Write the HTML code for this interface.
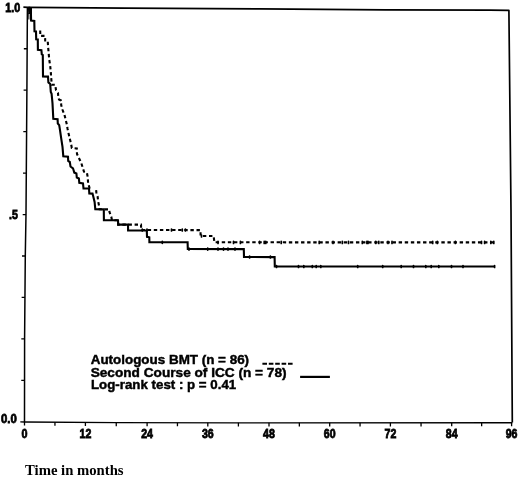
<!DOCTYPE html>
<html><head><meta charset="utf-8"><style>
html,body{margin:0;padding:0;background:#fff;}
svg{display:block;will-change:transform;}
</style></head><body>
<svg width="520" height="477" viewBox="0 0 520 477">
<rect width="520" height="477" fill="#fff"/>
<path d="M23.4 7.2 L28 7.3 L125 8.1 L260 8.9 L385 9.8 L490 10.1 L508.9 10.4 L511 210 L512.3 422.6" fill="none" stroke="#000" stroke-width="1.7" stroke-linejoin="round"/>
<path d="M27.4 7.3 L26.9 90 L26 214 L25.3 255 L24.6 338 L24.5 422" fill="none" stroke="#000" stroke-width="1.5"/>
<path d="M20.3 421.9 L24.5 421.95 L116 422.6 L238 422.85 L512.3 422.75" fill="none" stroke="#000" stroke-width="1.4"/>
<path d="M23.85 48.75H27.15M23.6 90.2H26.9M23.3 131.65H26.6M23 173.1H26.3M22.69 214.55H25.99M21.99 256H25.29M21.64 297.45H24.94M21.3 338.9H24.6M21.25 380.35H24.55M24.5 421.95V425.55M54.95 422.17V425.77M85.4 422.38V425.98M116.25 422.6V426.2M147.1 422.66V426.26M177.45 422.73V426.33M207.8 422.79V426.39M238.4 422.85V426.45M269 422.84V426.44M299.35 422.83V426.43M329.7 422.82V426.42M360.05 422.81V426.41M390.4 422.79V426.39M421.05 422.78V426.38M451.7 422.77V426.37M481.65 422.76V426.36M511.6 422.75V426.35" fill="none" stroke="#000" stroke-width="1.3"/>
<path d="M27.9 7.5 L31.9 7.5 L32 20.6 L30.2 20.6 L30 14 L28.2 14Z" fill="#000"/><path d="M28.7 13 L28.9 19.5" stroke="#000" stroke-width="1.2" fill="none" opacity="0.8"/>
<path d="M28.5 7.5 L30.8 8 L31.1 20.5 L34.3 20.9 L34.5 31.3 L36 31.5 L36.2 39.2 L37.8 39.4 L37.9 49.8 L41.4 50.1 L41.8 54.3 L42.8 55 L43 76.4 L48 76.6 L48.4 82.4 L50.2 84 L50.8 92 L51.6 93.8 L52.2 100 L52.5 103.4 L53.3 118.7 L57.6 119.2 L57.8 123.5 L59.2 125.2 L60 130.2 L61.2 138.4 L62.5 146.8 L63.3 156.2 L68 156.8 L68.2 161 L69.8 162 L70.5 166.5 L73 168.3 L74.3 172.6 L76.4 173.4 L76.8 177.6 L78.9 178.4 L79.3 182.8 L83 183.4 L83.5 188.5 L89 188.5 L89.3 193.4 L92.5 193.6 L93.4 197 L94.6 202 L95.3 209.3 L103.8 209.4 L103.9 220.2 L118 220.2 L118.2 224.6 L128 224.6 L128.1 230.5 L146.8 230.5 L147 236.8 L149.3 237.3 L149.4 242.2 L187.6 242.3 L187.8 249 L243.8 249.1 L244 257 L274.6 257.1 L274.8 266.4 L495 266.5" fill="none" stroke="#000" stroke-width="2.1" stroke-linejoin="miter"/>
<path d="M40.2 30.6 L40.3 35.9 L45 35.9 L45.2 40.5 L47.7 40.6 L48.2 48 L49.3 60 L50.2 66 L50.8 72 L51.2 78 L51.8 84.7 L55.2 84.8 L56 90 L58 93 L58.3 97 L59 99.5 L61 100.5 L61.2 105 L62.6 110 L64.5 115 L65.5 119 L66.8 124.3 L67.6 129 L68.8 134.5 L69.7 138.4 L71 143.4 L71.8 148 L76.8 148.4 L77 154 L79 158.2 L81.2 162.8 L82.7 167.6 L84 171.7 L86.9 172.8 L87.7 177 L88.1 183 L89.4 187.5 L89.6 189.5M96.1 190.2 L96.4 192.7 L97.6 196.5 L98.2 201.5 L99.2 206.5 L99.7 209.3 L109.3 209.4 L109.5 212 L111.3 216.8 L112 220.2 L118 220.2 L118.2 224.6 L141 224.6 L141.2 230 L200.5 230.1 L200.6 236 L213.6 236 L214.4 242.3 L494.7 242.4" fill="none" stroke="#000" stroke-width="2.1" stroke-dasharray="3.4 2.7"/>
<path d="M162.3 241.3v2M189 248.1v2M207.7 248.1v2M218 248.1v2M223.5 248.1v2M228 248.1v2M235 248.1v2M249.6 256v2M270.4 256v2M276.5 265.5v2M298.5 265.5v2M303.8 265.5v2M312.3 265.5v2M316.2 265.5v2M320.8 265.5v2M357.7 265.5v2M382.7 265.5v2M401.2 265.5v2M413.5 265.5v2M425.8 265.5v2M431.2 265.5v2M438.8 265.5v2M451.5 265.5v2M463 265.5v2M494.6 265.5v2M142.3 229v2M147 229v2M171.5 229v2M182.3 229v2M185.4 229v2M201.5 235v2M218 241.4v2M233.5 241.4v2M240.4 241.4v2M259.6 241.4v2M264.2 241.4v2M265.8 241.4v2M281.2 241.4v2M319.2 241.4v2M333 241.4v2M342.3 241.4v2M348.5 241.4v2M362.3 241.4v2M366.9 241.4v2M368 241.4v2M375.8 241.4v2M378.8 241.4v2M388 241.4v2M392 241.4v2M432.7 241.4v2M437.3 241.4v2M455.4 241.4v2M481.5 241.4v2M484.6 241.4v2M490.8 241.4v2M493.8 241.4v2" stroke="#000" stroke-width="1.7" stroke-linecap="round" fill="none"/>
<path d="M262.4 363.7H292.6" fill="none" stroke="#000" stroke-width="2.1" stroke-dasharray="4.6 1.8"/>
<path d="M300.1 376.9H329.9" fill="none" stroke="#000" stroke-width="2.2"/>
<text x="5.2" y="11.9" font-family="Liberation Sans" font-weight="bold" font-size="13.2" textLength="15" lengthAdjust="spacingAndGlyphs" text-anchor="start" stroke="#000" stroke-width="0.8">1.0</text>
<text x="9" y="218.6" font-family="Liberation Sans" font-weight="bold" font-size="13.2" textLength="8.9" lengthAdjust="spacingAndGlyphs" text-anchor="start" stroke="#000" stroke-width="0.8">.5</text>
<text x="1" y="422.6" font-family="Liberation Sans" font-weight="bold" font-size="13.2" textLength="15.8" lengthAdjust="spacingAndGlyphs" text-anchor="start" stroke="#000" stroke-width="0.8">0.0</text>
<text x="21.5" y="438.3" font-family="Liberation Sans" font-weight="bold" font-size="13.0" textLength="6" lengthAdjust="spacingAndGlyphs" text-anchor="start" stroke="#000" stroke-width="0.8">0</text>
<text x="79.5" y="438.3" font-family="Liberation Sans" font-weight="bold" font-size="13.0" textLength="11.8" lengthAdjust="spacingAndGlyphs" text-anchor="start" stroke="#000" stroke-width="0.8">12</text>
<text x="141.2" y="438.3" font-family="Liberation Sans" font-weight="bold" font-size="13.0" textLength="11.8" lengthAdjust="spacingAndGlyphs" text-anchor="start" stroke="#000" stroke-width="0.8">24</text>
<text x="201.9" y="438.3" font-family="Liberation Sans" font-weight="bold" font-size="13.0" textLength="11.8" lengthAdjust="spacingAndGlyphs" text-anchor="start" stroke="#000" stroke-width="0.8">36</text>
<text x="263.1" y="438.3" font-family="Liberation Sans" font-weight="bold" font-size="13.0" textLength="11.8" lengthAdjust="spacingAndGlyphs" text-anchor="start" stroke="#000" stroke-width="0.8">48</text>
<text x="323.8" y="438.3" font-family="Liberation Sans" font-weight="bold" font-size="13.0" textLength="11.8" lengthAdjust="spacingAndGlyphs" text-anchor="start" stroke="#000" stroke-width="0.8">60</text>
<text x="384.5" y="438.3" font-family="Liberation Sans" font-weight="bold" font-size="13.0" textLength="11.8" lengthAdjust="spacingAndGlyphs" text-anchor="start" stroke="#000" stroke-width="0.8">72</text>
<text x="445.8" y="438.3" font-family="Liberation Sans" font-weight="bold" font-size="13.0" textLength="11.8" lengthAdjust="spacingAndGlyphs" text-anchor="start" stroke="#000" stroke-width="0.8">84</text>
<text x="505.7" y="438.3" font-family="Liberation Sans" font-weight="bold" font-size="13.0" textLength="11.8" lengthAdjust="spacingAndGlyphs" text-anchor="start" stroke="#000" stroke-width="0.8">96</text>
<text x="90.7" y="364" font-family="Liberation Sans" font-weight="bold" font-size="13.4" textLength="158.4" lengthAdjust="spacingAndGlyphs" text-anchor="start" stroke="#000" stroke-width="0.45">Autologous BMT (n = 86)</text>
<text x="90.7" y="376.6" font-family="Liberation Sans" font-weight="bold" font-size="13.4" textLength="195.9" lengthAdjust="spacingAndGlyphs" text-anchor="start" stroke="#000" stroke-width="0.45">Second Course of ICC (n = 78)</text>
<text x="91" y="389.4" font-family="Liberation Sans" font-weight="bold" font-size="13.4" textLength="145.2" lengthAdjust="spacingAndGlyphs" text-anchor="start" stroke="#000" stroke-width="0.45">Log-rank test : p = 0.41</text>
<text x="25" y="474.7" font-family="Liberation Serif" font-weight="bold" font-size="14.6" textLength="98.6" lengthAdjust="spacingAndGlyphs" text-anchor="start">Time in months</text>
</svg>
</body></html>
